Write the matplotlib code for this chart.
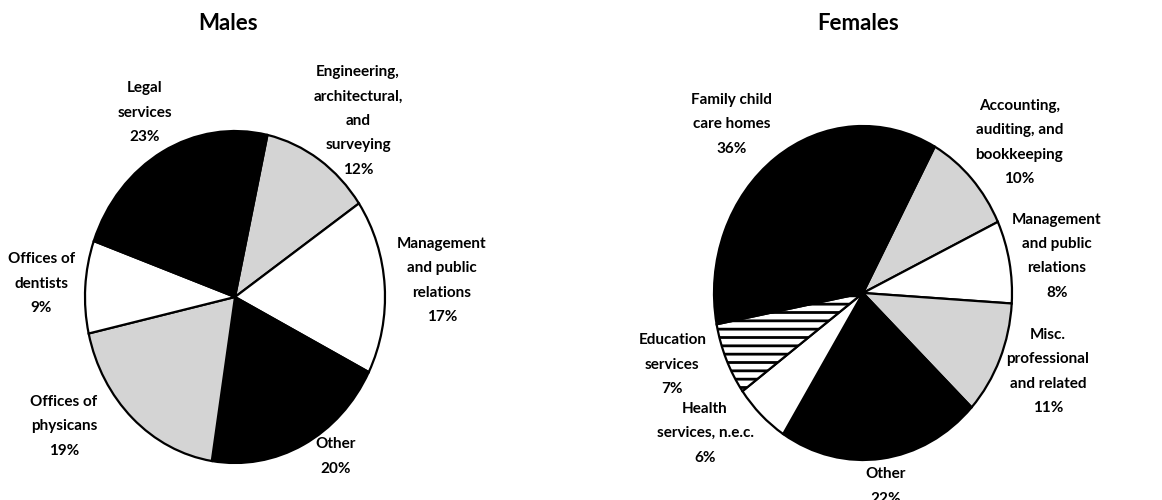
import matplotlib.pyplot as plt

# Males
male_labels = ["Engineering,\narchitectural,\nand\nsurveying", "Management\nand public\nrelations",
               "Other", "Offices of\nphysicans", "Offices of\ndentists", "Legal\nservices"]
male_share = [12, 17, 20, 19, 9, 23]
male_colors = ["#d4d4d4", "white", "black", "#d4d4d4", "white", "black"]
male_hatch = [None] * 6
male_text_pos = [(0.82, 1.06), (1.38, 0.10), (0.67, -0.96), (-1.14, -0.78), (-1.29, 0.08), (-0.60, 1.11)]

# Females
female_labels = ["Accounting,\nauditing, and\nbookkeeping", "Management\nand public\nrelations",
                 "Misc.\nprofessional\nand related", "Other", "Health\nservices, n.e.c.",
                 "Education\nservices", "Family child\ncare homes"]
female_share = [10, 8, 11, 22, 6, 7, 36]
female_colors = ["#d4d4d4", "white", "#d4d4d4", "black", "white", "white", "black"]
female_hatch = [None, None, None, None, None, "--", None]
female_text_pos = [(1.05, 0.90), (1.30, 0.22), (1.24, -0.47), (0.15, -1.16), (-1.06, -0.84),
                   (-1.28, -0.43), (-0.88, 1.01)]

plt.rcParams["font.family"] = ["Lato", "DejaVu Sans"]
plt.rcParams["hatch.linewidth"] = 2.0

W, H = 1162, 500
fig = plt.figure(figsize=(W / 100, H / 100), dpi=100)


def draw_pie(left, right, cx, cy, rx, ry, title, title_x, share, colors, hatches,
             labels, text_pos, start):
    ax = fig.add_axes([left / W, 0, (right - left) / W, 1])
    ax.set_facecolor("none")
    wedges, _ = ax.pie(share, colors=colors, startangle=start, counterclock=False,
                       wedgeprops=dict(edgecolor="black", linewidth=1.6))
    for w, h in zip(wedges, hatches):
        if h:
            w.set_hatch(h)
    ax.set_aspect("auto")
    ax.set_xlim((left - cx) / rx, (right - cx) / rx)
    ax.set_ylim((cy - H) / ry, cy / ry)
    ax.axis("off")
    for lab, val, (x, y) in zip(labels, share, text_pos):
        ax.text(x, y, f"{lab}\n{val}%", ha="center", va="center", fontsize=11,
                fontweight="bold", linespacing=1.95)
    fig.text(title_x / W, 1 - 24 / H, title, ha="center", va="center",
             fontsize=16, fontweight="bold")


draw_pie(0, 580, 235, 297, 150, 166, "Males", 228, male_share, male_colors, male_hatch,
         male_labels, male_text_pos, 77.5)
draw_pie(580, 1162, 863, 293, 149, 167, "Females", 858, female_share, female_colors,
         female_hatch, female_labels, female_text_pos, 61.2)

fig.savefig("out.png", dpi=100)
